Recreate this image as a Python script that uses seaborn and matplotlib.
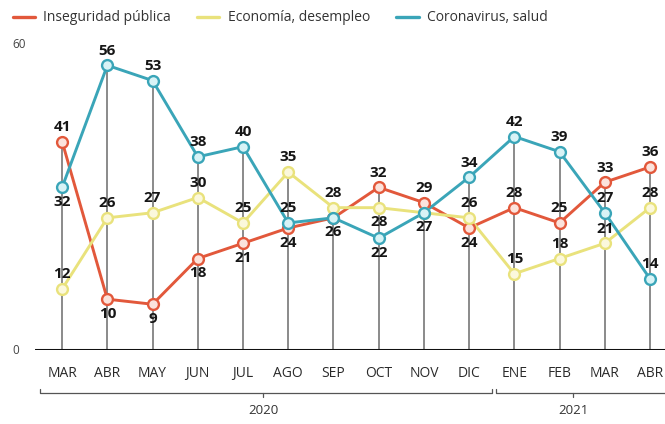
import matplotlib
matplotlib.use("Agg")
import matplotlib.pyplot as plt
from matplotlib.lines import Line2D
import seaborn as sns
import pandas as pd

meses = ["MAR", "ABR", "MAY", "JUN", "JUL", "AGO", "SEP", "OCT", "NOV", "DIC",
         "ENE", "FEB", "MAR", "ABR"]
inseguridad = [41, 10, 9, 18, 21, 24, 26, 32, 29, 24, 28, 25, 33, 36]
economia = [12, 26, 27, 30, 25, 35, 28, 28, 27, 26, 15, 18, 21, 28]
coronavirus = [32, 56, 53, 38, 40, 25, 26, 22, 27, 34, 42, 39, 27, 14]

series = ["Inseguridad pública", "Economía, desempleo", "Coronavirus, salud"]
colores = {"Inseguridad pública": "#e2583b",
           "Economía, desempleo": "#e9e27c",
           "Coronavirus, salud": "#3aa5b8"}
relleno = {"Inseguridad pública": "#fbe3dc",
           "Economía, desempleo": "#fbf8dc",
           "Coronavirus, salud": "#d8f3f6"}

# posición de la etiqueta: 1 arriba, -1 abajo, 0 sin etiqueta
pos_ins = [1, -1, -1, -1, -1, -1, 0, 1, 1, -1, 1, 1, 1, 1]
pos_eco = [1, 1, 1, 1, 1, 1, 1, -1, 0, 1, 1, 1, 1, 1]
pos_cor = [-1, 1, 1, 1, 1, 1, -1, -1, -1, 1, 1, 1, 1, 1]

df = pd.DataFrame({
    "x": list(range(len(meses))) * 3,
    "valor": inseguridad + economia + coronavirus,
    "serie": [s for s in series for _ in meses],
})

sns.set_style("white")
plt.rcParams["font.family"] = ["Open Sans", "DejaVu Sans"]

fig = plt.figure(figsize=(6.65, 4.24), dpi=100)
ax = fig.add_axes([35 / 665, 1 - 350 / 424, 630 / 665, 305 / 424])

# lineas verticales hasta el valor mas alto de cada mes
tope = [max(a, b, c) for a, b, c in zip(inseguridad, economia, coronavirus)]
ax.vlines(range(len(meses)), 0, tope, color="#6b6b6b", lw=1.1, zorder=1)

sns.lineplot(data=df, x="x", y="valor", hue="serie", palette=colores,
             lw=2.1, legend=False, ax=ax, zorder=3)
for s in series:
    d = df[df["serie"] == s]
    ax.plot(d["x"], d["valor"], ls="none", marker="o", ms=7.8,
            mfc=relleno[s], mec=colores[s], mew=1.7, zorder=4)

for vals, pos in [(inseguridad, pos_ins), (economia, pos_eco), (coronavirus, pos_cor)]:
    for i, (v, p) in enumerate(zip(vals, pos)):
        if p == 0:
            continue
        ax.annotate(str(v), (i, v), xytext=(0, 5.5 * p), textcoords="offset points",
                    ha="center", va="bottom" if p > 0 else "top",
                    fontsize=11, fontweight="bold", color="#161616", zorder=5)

ax.set_xlim(-0.6, 13 + 15 / 45.23)
ax.set_ylim(0, 60)
ax.axhline(0, color="#111111", lw=2.2, zorder=6)
ax.set_xticks([])
ax.set_yticks([])
ax.set_xlabel("")
ax.set_ylabel("")
for sp in ax.spines.values():
    sp.set_visible(False)

fig.text(12 / 665, 1 - 45 / 424, "60", fontsize=8.5, color="#444444", va="center")
fig.text(12 / 665, 1 - 350 / 424, "0", fontsize=8.5, color="#444444", va="center")

for i, m in enumerate(meses):
    ax.text(i, -4.6, m, ha="center", va="center", fontsize=10, color="#2a2a2a")

# llaves de los años
def llave(x0, x1, xm, etiqueta):
    y = -8.4
    ax.plot([x0, x0, x1, x1], [y + 0.8, y, y, y + 0.8], color="#555555", lw=0.9,
            clip_on=False)
    ax.plot([xm, xm], [y, y - 0.8], color="#555555", lw=0.9, clip_on=False)
    ax.text(xm, y - 3.6, etiqueta, ha="center", va="center", fontsize=9.5,
            color="#333333")

llave(-0.5, 9.5, 4.45, "2020")
llave(9.6, 13.35, 11.3, "2021")

handles = [Line2D([0], [0], color=colores[s], lw=2.4) for s in series]
fig.legend(handles, series, loc="upper left", bbox_to_anchor=(0.0, 1.005), ncol=3,
           frameon=False, fontsize=10, handlelength=1.6, columnspacing=1.9,
           handletextpad=0.6, labelcolor="#333333")

fig.savefig("out.png", dpi=100, facecolor="white")
